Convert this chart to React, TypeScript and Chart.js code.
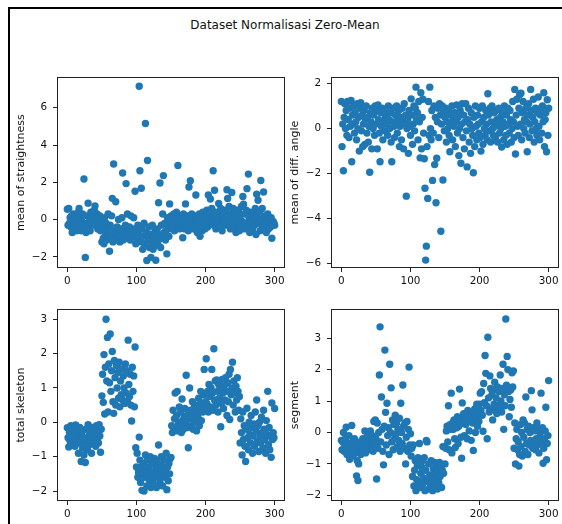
import React, { useEffect, useRef } from "react";
import { Chart, registerables } from "chart.js";

Chart.register(...registerables);

const figureTitle = "Dataset Normalisasi Zero-Mean";
const xTickValues = [0, 100, 200, 300];

const straightnessTicks = [-2, 0, 2, 4, 6];
const diffAngleTicks = [-6, -4, -2, 0, 2];
const skeletonTicks = [-2, -1, 0, 1, 2, 3];
const segmentTicks = [-2, -1, 0, 1, 2, 3];

const meanStraightness = [
  0.55, -0.3, 0.6, -0.2, 0.1, -0.4, 0.2, -0.7, -0.1, 0.3,
  -0.5, 0.0, -0.3, -0.6, 0.2, -0.2, 0.4, 0.6, -0.4, 0.1,
  -0.6, -0.1, 0.3, -0.5, 2.18, -0.3, -2.03, -0.7, 0.2, -0.2,
  0.88, -0.4, 0.1, -0.6, 0.4, -0.1, 0.2, 0.3, -0.3, 0.5,
  0.73, 0.0, -0.2, 0.3, -0.5, 0.1, -0.3, 0.2, -0.6, -0.1,
  -1.2, -0.4, -1.0, -1.3, 0.1, -0.7, -0.2, -1.1, -0.5, 0.3,
  -0.9, -1.7, -0.3, -0.8, 0.2, 1.14, -1.2, 2.98, -0.6, -1.0,
  0.96, -0.8, -0.4, -1.1, 0.0, -0.7, -1.2, -0.9, -0.5, 0.1,
  2.5, -1.1, -0.6, -0.9, -0.3, 1.93, -0.8, 0.3, -1.0, -0.6,
  -0.4, -1.1, 0.2, -0.7, -0.9, -0.5, 0.1, -0.8, 1.52, -1.3,
  -0.6, -1.0, -0.3, -0.8, 7.16, 2.62, -1.2, 1.68, -0.5, -1.6,
  -0.9, -0.2, -1.3, 5.16, -0.7, -2.2, 3.17, -1.1, -0.4, -1.5,
  -0.8, -2.03, -1.2, -0.3, -1.6, -0.9, -1.4, -0.6, -2.18, -1.1,
  -0.5, -1.3, 0.9, -0.8, 1.96, -1.5, -0.3, -1.0, 0.3, 2.36,
  -0.7, -0.2, -1.1, -0.6, -1.84, 0.1, -0.4, -0.9, 0.84, -0.2,
  0.2, -0.5, 0.0, -0.3, 0.3, -0.6, 0.1, -0.2, 0.4, -0.4,
  2.9, 0.0, -0.5, 0.2, -0.3, 0.1, -0.4, -0.98, 0.3, -0.2,
  -0.5, 0.84, 0.0, -0.3, 0.2, -0.6, 1.75, 0.1, 2.09, -0.4,
  0.3, -0.2, -0.5, 0.1, -0.3, 0.2, 1.32, -0.1, -0.7, 0.0,
  -0.4, 0.3, -0.9, -0.2, 0.1, -0.6, 0.4, -0.3, 0.0, -0.5,
  0.2, -0.1, 0.5, -0.4, 1.32, 0.0, 0.3, 1.1, -0.2, 0.6,
  0.1, 2.62, -0.3, 1.57, 0.4, -0.5, 0.2, 0.0, -0.2, 0.86,
  0.3, -0.4, 0.6, 0.1, -0.6, 0.2, -0.1, 0.5, -0.3, 0.0,
  0.4, 1.6, 1.13, -0.2, 0.7, 0.1, -0.5, 0.3, 1.45, -0.1,
  0.6, 0.0, -0.4, 0.3, -0.7, 0.5, -0.2, 0.1, 0.4, -0.6,
  0.2, -0.3, 0.7, -0.1, 1.24, 0.82, -0.5, 0.3, -0.2, 0.5,
  1.66, -0.4, 2.44, 0.1, -0.7, 0.4, -0.1, 0.2, -0.5, 0.0,
  0.3, -0.3, 0.6, -0.8, 1.36, 0.1, 1.04, -0.2, 0.4, -0.6,
  2.1, 0.0, 0.6, -0.4, 1.48, 0.2, -0.3, 0.1, -0.7, -0.1,
  0.3, -0.5, 0.0, -0.2, -0.4, 0.1, -1.0, -0.3, -0.1, -0.2,
  -0.3,
];

const meanDiffAngle = [
  1.2, -0.8, 0.2, -1.87, 0.5, 1.1, 0.0, 0.8, -0.3, 1.2,
  0.4, -0.4, 0.9, 0.1, 1.25, -1.47, 0.6, 0.2, 1.0, -0.2,
  0.7, 0.3, -0.5, 1.1, 0.0, 0.5, -1.0, 0.9, 1.15, -0.1,
  0.6, -0.8, 0.2, 0.8, -0.7, 0.4, 1.0, -0.2, 0.5, -0.6,
  0.1, -1.94, 0.7, 0.3, -0.9, 0.9, 0.0, 0.6, -0.3, 1.0,
  0.2, 0.8, -0.9, 1.05, 0.4, -0.2, -1.47, 0.7, 0.1, 0.9,
  -0.5, 0.3, 0.8, -0.1, 0.5, 0.2, 0.6, -0.3, 1.0, 0.4,
  0.0, 0.7, -0.6, -1.47, 0.3, 0.9, 0.1, -0.4, 0.6, 0.2,
  1.0, -0.2, 0.4, 0.8, -0.8, 0.1, 0.5, -0.5, 0.9, 0.3,
  -0.9, 1.1, 0.2, 0.6, -3.0, 0.0, 0.4, -1.1, 0.8, 0.1,
  -0.3, 1.32, 0.6, -0.7, 0.2, 1.0, -0.1, 0.9, 1.84, 0.4,
  0.7, -0.5, 1.2, 0.3, -1.3, 1.59, -0.9, 0.5, 1.3, -0.2,
  -1.34, -2.65, -5.84, -5.22, -0.8, -3.1, 1.2, -0.3, 1.84, 0.0,
  -0.5, 0.8, -2.3, -0.2, 1.0, -1.6, 0.5, -3.29, -1.32, 0.3,
  0.9, -0.4, 1.1, 0.6, -4.56, 0.2, 1.0, -2.28, 0.7, -0.1,
  0.5, 0.9, -0.6, 0.3, 0.0, 0.8, -0.3, -1.03, 0.6, 0.2,
  1.0, -0.5, 0.4, 0.1, 0.7, -0.8, 0.3, 1.05, -0.2, 0.5,
  -1.2, 0.0, 0.8, -1.54, 0.2, 1.1, -0.4, 0.6, -0.9, 0.3,
  1.1, -0.1, -1.7, 0.4, 0.9, -0.6, 0.2, -1.1, 0.7, 0.0,
  -0.3, -1.96, 0.5, -0.8, 1.0, 0.1, -0.5, 0.6, 0.2, -0.2,
  0.9, -0.4, -1.0, 0.3, 1.0, -0.7, 0.5, 0.0, -0.3, 0.8,
  0.2, -0.5, 1.55, 0.6, -0.1, 0.9, -0.6, 0.3, 1.0, 0.0,
  -0.3, 0.7, 0.1, -0.4, 0.8, 0.4, -0.6, 0.2, 0.9, -0.2,
  0.5, 0.0, -0.82, 0.7, 0.3, -0.5, 1.0, 0.1, -0.3, 0.6,
  -0.7, 0.9, 0.2, -0.2, 0.8, 0.4, -0.6, 0.0, 1.2, 0.3,
  -0.4, 1.74, -1.13, 0.6, 1.3, 0.1, -0.3, 0.9, 1.5, 0.2,
  1.57, -0.5, 0.7, 1.2, 0.0, 0.4, -0.2, 0.9, 0.3, -1.03,
  0.6, 1.1, -0.4, 0.2, 1.74, 0.8, -0.1, 0.5, 1.3, -0.6,
  0.3, 0.9, 0.0, -0.3, 0.7, 1.4, 0.1, -0.5, 0.6, 0.9,
  -0.2, 1.0, 0.3, 1.59, -0.8, 0.4, 0.7, -1.03, 1.28, -0.3,
  0.9,
];

const totalSkeleton = [
  -0.16, -0.45, -0.72, -0.3, -0.55, -0.1, -0.4, -0.65, -0.2, -0.5,
  -0.35, -0.7, -0.08, -0.5, -0.25, -0.6, -0.9, -0.4, -0.15, -0.55,
  -1.14, -0.3, -0.75, -0.45, -0.95, -0.6, -1.17, -0.2, -0.5, -0.8,
  -0.07, -0.4, -0.65, -0.25, -0.55, -0.9, -0.35, -0.15, -0.6, -0.45,
  -0.3, -0.7, -0.1, -0.5, -0.25, -0.6, -0.07, -0.4, -0.87, -0.2,
  0.77, 1.4, 0.58, 1.97, 0.24, 1.6, 3.0, 1.2, 2.47, 0.3,
  1.7, 1.15, 2.57, 0.9, 1.5, 2.06, 0.6, 0.26, 1.8, 1.3,
  0.5, 1.65, 1.0, 1.45, 0.7, 1.75, 0.45, 1.2, 0.8, 1.55,
  0.65, 1.35, 1.0, 0.55, 1.7, 0.85, 1.5, 0.6, 2.39, 1.1,
  0.75, 1.4, 0.5, 0.04, 1.6, 0.9, 1.35, 0.45, 2.19, -0.74,
  -1.3, -0.9, -1.6, -1.45, -0.43, -1.1, -1.75, -1.3, -1.98, -1.5,
  -1.2, -2.0, -1.6, -0.95, -1.4, -1.85, -1.1, -1.55, -1.3, -1.7,
  -1.0, -1.9, -1.45, -1.2, -1.65, -1.8, -1.05, -1.5, -1.35, -1.9,
  -1.15, -1.6, -0.66, -1.4, -1.75, -1.25, -1.0, -1.55, -1.85, -1.3,
  -1.1, -1.6, -1.45, -0.9, -1.96, -1.3, -1.7, -1.2, -1.5, -1.05,
  -1.02, -0.1, -0.3, 0.35, -0.2, 0.1, 0.85, -0.15, 0.2, 0.9,
  -0.25, 0.0, 0.45, -0.1, 0.3, -0.3, 0.68, 0.05, -0.2, 0.15,
  0.4, -0.05, 1.37, 0.2, -0.15, -0.74, 0.1, 1.0, 0.35, -0.1,
  0.25, 0.6, -0.2, 0.1, 0.45, 0.0, 0.3, -0.25, 0.5, 0.15,
  0.7, -0.1, 0.35, 0.9, 0.05, 0.55, 0.3, 0.8, 1.54, 0.4,
  0.6, 1.85, 0.54, 0.9, 0.3, 1.1, 0.75, 0.45, 1.0, 1.54,
  0.85, 0.35, 2.14, 0.65, 1.2, 0.5, 1.23, 0.9, 0.3, 1.1,
  0.7, 1.0, -0.13, 0.55, 1.25, 0.85, 0.4, 1.05, 0.65, 1.3,
  0.9, 0.2, 1.15, 0.6, 1.4, 0.08, 1.54, 0.8, 1.0, 1.75,
  0.5, 1.2, 0.85, 0.3, 1.05, 0.65, 1.3, 0.9, 0.35, 0.75,
  -0.6, 0.1, -0.3, -0.95, 0.3, -0.5, -0.1, -0.7, -1.14, -0.2,
  0.41, -0.45, -0.8, 0.0, -0.35, -0.6, 0.2, -0.15, -0.9, -0.4,
  -0.05, -0.7, 0.3, -0.25, 0.65, -0.55, -0.1, -0.85, 0.0, -0.4,
  -0.6, 0.15, -0.3, -0.75, 0.35, -0.2, -0.5, -0.9, 0.05, -0.35,
  0.9, -0.65, -0.15, -0.8, -0.4, -1.02, 0.56, -0.5, -0.3, -0.45,
  0.4,
];

const segmentValues = [
  -0.25, -0.55, -0.3, 0.0, -0.6, -0.4, -0.2, 0.17, -0.7, -0.35,
  -0.5, -0.1, -0.85, -0.45, -0.6, 0.22, -0.3, -0.75, -0.5, -0.2,
  -0.65, -0.4, -1.38, -0.9, -1.53, -1.0, -0.55, -0.3, -0.7, -0.45,
  -0.6, -0.2, -0.5, -0.35, 0.05, -0.65, -0.4, -0.15, 0.0, -0.5,
  -0.3, -0.55, 0.05, -0.25, -0.45, -0.1, -0.6, 0.35, -0.4, 0.4,
  -0.2, -1.48, 0.3, -0.5, 0.0, 1.83, 3.36, -0.3, 1.13, 0.1,
  -0.6, -1.03, 0.2, 2.62, 0.64, -0.4, 0.93, -0.1, 0.15, -0.7,
  2.17, 0.0, 1.42, -0.3, 0.4, -0.55, 0.25, -0.2, 0.55, -0.05,
  0.3, -0.45, 0.1, -0.25, 0.45, -0.6, 0.93, 0.0, -0.35, 1.51,
  0.2, -0.5, 0.3, -1.0, -0.15, 0.35, -0.6, 0.1, 2.08, -0.4,
  -0.04, -0.75, -0.5, -1.4, -0.4, -1.7, -1.2, -0.9, -1.85, -1.5,
  -1.05, -0.8, -1.6, -0.35, -1.75, -1.3, -1.1, -0.9, -1.65, -1.45,
  -0.8, -1.85, -1.2, -0.25, -0.3, -1.55, -1.0, -1.8, -1.35, -1.7,
  -0.9, -1.5, -1.85, -1.15, -1.3, -0.95, -1.65, -1.45, -1.1, -1.8,
  -1.25, -1.6, -0.95, -1.4, -1.05, -1.75, -1.2, -0.45, -1.3, -0.45,
  -1.0, -0.5, 0.05, 0.2, -0.3, 0.85, -0.55, 0.25, 0.1, 1.25,
  -0.65, 0.3, 0.1, 0.4, -0.2, -0.48, 0.35, 0.15, 0.5, -0.35,
  0.2, 1.38, 0.45, -0.15, -0.82, 0.94, 0.3, 0.6, -0.1, 0.4,
  0.25, 0.5, -0.2, 0.7, 0.35, 0.05, 0.55, 0.4, -0.25, 0.6,
  0.3, -0.57, 0.5, 0.75, 0.0, 0.45, 0.9, 0.2, 0.6, 0.35,
  0.9, 1.25, 0.7, 1.3, 0.55, 0.04, 1.56, 0.95, 2.45, 1.88,
  0.85, -0.2, 3.03, 1.1, 0.65, 1.8, 1.4, 0.75, 1.2, 0.4,
  1.35, 0.9, 1.6, 0.7, 1.1, 0.6, 1.45, 0.85, 1.3, 0.75,
  1.83, 1.0, 0.65, 1.4, 2.17, 0.1, 1.2, 0.85, 3.61, 1.5,
  2.42, 2.0, 1.3, 0.5, 1.05, 1.35, 0.8, 1.9, 1.45, 1.96,
  -0.5, 0.3, -1.0, -0.2, 0.1, -0.55, -0.3, -1.07, -0.7, 0.25,
  -0.45, 0.0, -0.75, 0.4, -0.15, 0.3, -0.6, 1.13, -0.35, 0.1,
  -0.7, 0.2, -0.4, 0.0, -0.25, 1.33, 0.72, -0.5, 0.15, -0.3,
  0.05, -0.55, -0.2, 0.3, -0.4, 0.1, -0.65, -0.15, 0.0, 1.25,
  -0.3, 0.15, -0.98, -0.5, -0.2, 0.05, 0.8, -0.87, -0.35, -0.1,
  1.65,
];

const FONT = "'DejaVu Sans', sans-serif";
const DOT = "#1f77b4";
const Y_AXIS_W = 45;
const PAD_L = 12;
const PAD_T = 10;
const PAD_R = 10;
const X_AXIS_H = 30;

const fmt = (v: number) => (v < 0 ? "\u2212" + Math.abs(v) : String(v));

const boxPlugin = {
  id: "spineBox",
  afterDraw(chart: any) {
    const { ctx, chartArea } = chart;
    const l = Math.round(chartArea.left) + 0.5;
    const t = Math.round(chartArea.top) + 0.5;
    const r = Math.round(chartArea.right) - 0.5;
    const b = Math.round(chartArea.bottom) - 0.5;
    ctx.save();
    ctx.strokeStyle = "#222";
    ctx.lineWidth = 1;
    ctx.strokeRect(l, t, r - l, b - t);
    ctx.restore();
  },
};

type PanelProps = {
  values: number[];
  label: string;
  yTicks: number[];
  yMin: number;
  yMax: number;
  left: number;
  top: number;
  right: number;
  bottom: number;
};

function Panel({ values, label, yTicks, yMin, yMax, left, top, right, bottom }: PanelProps) {
  const ref = useRef<HTMLCanvasElement>(null);
  const cw = PAD_L + Y_AXIS_W + (right - left) + PAD_R;
  const ch = PAD_T + (bottom - top) + X_AXIS_H;
  useEffect(() => {
    const chart = new Chart(ref.current as HTMLCanvasElement, {
      type: "scatter",
      data: {
        datasets: [
          {
            data: values.map((v, i) => ({ x: i, y: v })),
            backgroundColor: DOT,
            borderColor: DOT,
            borderWidth: 0,
            pointRadius: 3.7,
            pointHoverRadius: 3.7,
          },
        ],
      },
      options: {
        responsive: false,
        animation: false,
        devicePixelRatio: 1,
        events: [],
        layout: { padding: { left: PAD_L, top: PAD_T, right: PAD_R, bottom: 0 } },
        plugins: { legend: { display: false }, tooltip: { enabled: false }, title: { display: false } },
        scales: {
          x: {
            type: "linear",
            min: -15,
            max: 315,
            afterBuildTicks: (s: any) => {
              s.ticks = xTickValues.map((v) => ({ value: v }));
            },
            afterFit: (s: any) => {
              s.height = X_AXIS_H;
            },
            grid: { drawOnChartArea: false, drawTicks: true, tickLength: 4, color: "#222", lineWidth: 1 },
            border: { display: false },
            ticks: {
              font: { family: FONT, size: 10.4 },
              color: "#111",
              padding: 3,
              maxRotation: 0,
              autoSkip: false,
              callback: (v: any) => fmt(Number(v)),
            },
          },
          y: {
            type: "linear",
            min: yMin,
            max: yMax,
            afterBuildTicks: (s: any) => {
              s.ticks = yTicks.map((v) => ({ value: v }));
            },
            afterFit: (s: any) => {
              s.width = Y_AXIS_W;
            },
            grid: { drawOnChartArea: false, drawTicks: true, tickLength: 4, color: "#222", lineWidth: 1 },
            border: { display: false },
            ticks: {
              font: { family: FONT, size: 10.4 },
              color: "#111",
              padding: 6,
              autoSkip: false,
              callback: (v: any) => fmt(Number(v)),
            },
            title: {
              display: true,
              text: label,
              font: { family: FONT, size: 11 },
              color: "#111",
              padding: { top: 3, bottom: 0 },
            },
          },
        },
      },
      plugins: [boxPlugin],
    } as any);
    return () => chart.destroy();
  }, []);
  return (
    <canvas
      ref={ref}
      width={cw}
      height={ch}
      style={{
        position: "absolute",
        left: left - Y_AXIS_W - PAD_L,
        top: top - PAD_T,
        width: cw,
        height: ch,
      }}
    />
  );
}

export default function App() {
  return (
    <div
      style={{
        position: "absolute",
        left: 0,
        top: 0,
        width: 562,
        height: 524,
        overflow: "hidden",
        background: "#fff",
      }}
    >
      <div
        style={{
          position: "absolute",
          left: 8,
          top: 7,
          width: 700,
          height: 700,
          borderTop: "2px solid #000",
          borderLeft: "2px solid #000",
        }}
      />
      <div
        style={{
          position: "absolute",
          left: 0,
          top: 18,
          width: 570,
          textAlign: "center",
          fontFamily: FONT,
          fontSize: 12,
          lineHeight: "14px",
          color: "#111",
        }}
      >
        {figureTitle}
      </div>
      <Panel values={meanStraightness} label="mean of straightness" yTicks={straightnessTicks} yMin={-2.6} yMax={7.64} left={57} top={75} right={285} bottom={268} />
      <Panel values={meanDiffAngle} label="mean of diff. angle" yTicks={diffAngleTicks} yMin={-6.19} yMax={2.28} left={331} top={75} right={559} bottom={268} />
      <Panel values={totalSkeleton} label="total skeleton" yTicks={skeletonTicks} yMin={-2.29} yMax={3.29} left={57} top={307} right={285} bottom={501} />
      <Panel values={segmentValues} label="segment" yTicks={segmentTicks} yMin={-2.18} yMax={3.92} left={331} top={307} right={559} bottom={501} />
    </div>
  );
}
